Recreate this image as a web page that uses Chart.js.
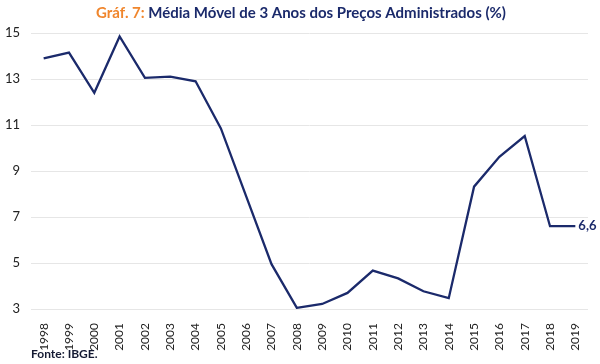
<!DOCTYPE html>
<html>
<head>
<meta charset="utf-8">
<script src="https://cdn.jsdelivr.net/npm/chart.js@4"></script>
<style>
  html, body { margin: 0; padding: 0; background: #fff; }
  #wrap { position: relative; width: 600px; height: 364px; }
</style>
</head>
<body>
<div id="wrap"><canvas id="chart" width="600" height="364"></canvas></div>
<script>
// --- DATA ---
const years = ['1998', '1999', '2000', '2001', '2002', '2003', '2004', '2005', '2006', '2007', '2008',
               '2009', '2010', '2011', '2012', '2013', '2014', '2015', '2016', '2017', '2018', '2019'];
const mediaMovel = [13.9, 14.15, 12.4, 14.85, 13.05, 13.1, 12.9, 10.85, 7.9, 4.95, 3.05,
                    3.22, 3.7, 4.67, 4.33, 3.77, 3.47, 8.32, 9.62, 10.52, 6.6, 6.6];
const yTicks = [3, 5, 7, 9, 11, 13, 15];

const NAVY = '#1b2a6b';
const ORANGE = '#f0862d';
const FONT = 'Lato, "Open Sans", sans-serif';

// title, footer and end label
const decorPlugin = {
    id: 'decor',
    afterDraw(chart) {
        const ctx = chart.ctx;
        ctx.save();
        // title
        ctx.font = 'bold 15px ' + FONT;
        ctx.textBaseline = 'middle';
        const p1 = 'Gráf. 7: ';
        const p2 = 'Média Móvel de 3 Anos dos Preços Administrados (%)';
        const w1 = ctx.measureText(p1).width;
        const w2 = ctx.measureText(p2).width;
        let x = 301 - (w1 + w2) / 2;
        ctx.textAlign = 'left';
        ctx.fillStyle = ORANGE;
        ctx.fillText(p1, x, 13);
        ctx.fillStyle = NAVY;
        ctx.fillText(p2, x + w1, 13);

        // footer
        ctx.font = 'bold 12px ' + FONT;
        ctx.fillStyle = '#141a33';
        ctx.fillText('Fonte: IBGE.', 31, 354);

        // last value label
        const meta = chart.getDatasetMeta(0);
        const last = meta.data[meta.data.length - 1];
        ctx.font = 'bold 13px ' + FONT;
        ctx.fillStyle = NAVY;
        ctx.fillText(String(mediaMovel[mediaMovel.length - 1]).replace('.', ','), last.x + 3, last.y);
        ctx.restore();
    }
};

new Chart(document.getElementById('chart'), {
    type: 'line',
    data: {
        labels: years,
        datasets: [{
            data: mediaMovel,
            borderColor: NAVY,
            borderWidth: 2.3,
            pointRadius: 0,
            tension: 0,
            fill: false
        }]
    },
    options: {
        responsive: false,
        animation: false,
        devicePixelRatio: 1,
        layout: { padding: { top: 33, right: 12, bottom: 11, left: 0 } },
        plugins: { legend: { display: false }, tooltip: { enabled: false } },
        scales: {
            x: {
                offset: true,
                grid: { display: false },
                border: { display: false },
                ticks: {
                    autoSkip: false,
                    minRotation: 90,
                    maxRotation: 90,
                    padding: 6,
                    color: '#222',
                    font: { family: FONT, size: 12 }
                },
                afterFit(s) { s.height = 44; }
            },
            y: {
                min: 3,
                max: 15,
                afterBuildTicks(s) { s.ticks = yTicks.map(v => ({ value: v })); },
                grid: { color: '#e6e6e6', lineWidth: 1, drawTicks: false },
                border: { display: false },
                ticks: {
                    padding: 11,
                    color: '#222',
                    font: { family: FONT, size: 13 }
                },
                afterFit(s) { s.width = 31; }
            }
        }
    },
    plugins: [decorPlugin]
});
</script>
</body>
</html>
